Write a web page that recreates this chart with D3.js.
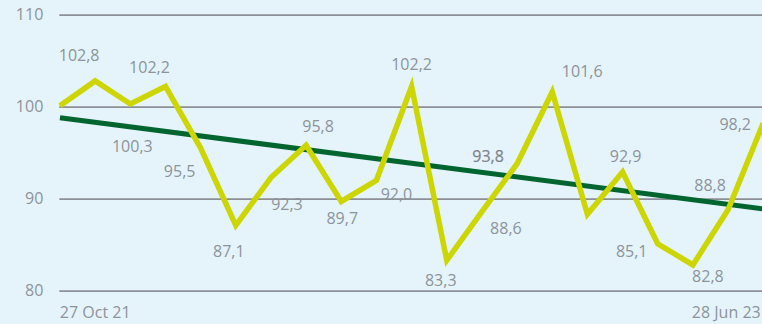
<!DOCTYPE html>
<html>
<head>
<meta charset="utf-8">
<script src="https://cdn.jsdelivr.net/npm/d3@7"></script>
<style>
  html, body { margin: 0; padding: 0; background: #e5f3fa; }
  svg { display: block; }
  text { font-family: "Open Sans", "Noto Sans", sans-serif; }
</style>
</head>
<body>
<svg id="chart" width="762" height="324"></svg>
<script>
// Monthly observations, Oct 2021 – Jun 2023
const months = ["Oct 21","Nov 21","Dec 21","Jan 22","Feb 22","Mar 22","Apr 22",
                "May 22","Jun 22","Jul 22","Aug 22","Sep 22","Oct 22","Nov 22",
                "Dec 22","Jan 23","Feb 23","Mar 23","Apr 23","May 23","Jun 23"];
const values = [100.1, 102.8, 100.3, 102.2, 95.5, 87.1, 92.3, 95.8, 89.7, 92.0,
                102.2, 83.3, 88.6, 93.8, 101.6, 88.3, 92.9, 85.1, 82.8, 88.8, 98.2];
// Trend line values at the first and last month
const trendValues = [98.8, 88.9];
const yTicks = [80, 90, 100, 110];
const xTickLabels = ["27 Oct 21", "28 Jun 23"];

// Value-label placement relative to each point (null = no label)
const labelShift = [null, [-16,-20], [2,48], [-16,-13], [-21,29], [-7,32], [16,32],
                    [12,-13], [1,23], [20,20], [0,-16], [-6,26], [24,22], [-29,-2],
                    [30,-15], null, [3,-10], [-26,13], [15,17], [-18,-19], [-28,7]];
const emphasisIndex = 13;

const svg = d3.select("#chart");
const W = 762, H = 324;
svg.append("rect").attr("width", W).attr("height", H).attr("fill", "#e5f3fa");

const x = d3.scalePoint().domain(months).range([60, 763.2]);
const y = d3.scaleLinear().domain([80, 110]).range([290.7, 14.7]);

const fmt = d3.formatLocale({decimal: ",", thousands: ".", grouping: [3], currency: ["", ""]}).format(".1f");
const grey = "#8d939a";

// Horizontal gridlines with value labels
const yAxis = svg.append("g")
  .attr("transform", "translate(59.3,0)")
  .call(d3.axisLeft(y).tickValues(yTicks).tickSize(-(W - 59.3)).tickPadding(16).tickFormat(d3.format("d")));
yAxis.select(".domain").remove();
yAxis.selectAll(".tick line").attr("stroke", "#8c9096").attr("stroke-width", 1.7);
yAxis.selectAll(".tick text").attr("fill", grey).style("font-size", "16px")
  .style("font-family", "'Open Sans', sans-serif");

// First and last date on the bottom axis
const xAxis = svg.append("g")
  .attr("transform", `translate(0,${y(80)})`)
  .call(d3.axisBottom(x)
    .tickValues([months[0], months[months.length - 1]])
    .tickSize(0).tickPadding(16)
    .tickFormat((d, i) => xTickLabels[i]));
xAxis.select(".domain").remove();
xAxis.selectAll(".tick text").attr("fill", grey).style("font-size", "16px")
  .style("font-family", "'Open Sans', sans-serif")
  .attr("text-anchor", (d, i) => i === 0 ? "start" : "end")
  .attr("dx", (d, i) => i === 0 ? -0.7 : -3);

// Trend line
svg.append("path")
  .datum([[months[0], trendValues[0]], [months[months.length - 1], trendValues[1]]])
  .attr("fill", "none")
  .attr("stroke", "#00652e")
  .attr("stroke-width", 5)
  .attr("d", d3.line().x(d => x(d[0])).y(d => y(d[1])));

// Main series
svg.append("path")
  .datum(values)
  .attr("fill", "none")
  .attr("stroke", "#cdd600")
  .attr("stroke-width", 5.5)
  .attr("stroke-linejoin", "miter")
  .attr("d", d3.line().x((d, i) => x(months[i])).y(d => y(d)));

// Value labels
svg.append("g").selectAll("text")
  .data(values.map((v, i) => ({v, i, s: labelShift[i]})).filter(d => d.s))
  .join("text")
  .attr("x", d => x(months[d.i]) + d.s[0])
  .attr("y", d => y(d.v) + d.s[1])
  .attr("text-anchor", "middle")
  .attr("fill", d => d.i === emphasisIndex ? "#7d838a" : grey)
  .attr("stroke", d => d.i === emphasisIndex ? "#7d838a" : "none")
  .attr("stroke-width", 0.2)
  .style("font-size", "16px")
  .text(d => fmt(d.v));
</script>
</body>
</html>
